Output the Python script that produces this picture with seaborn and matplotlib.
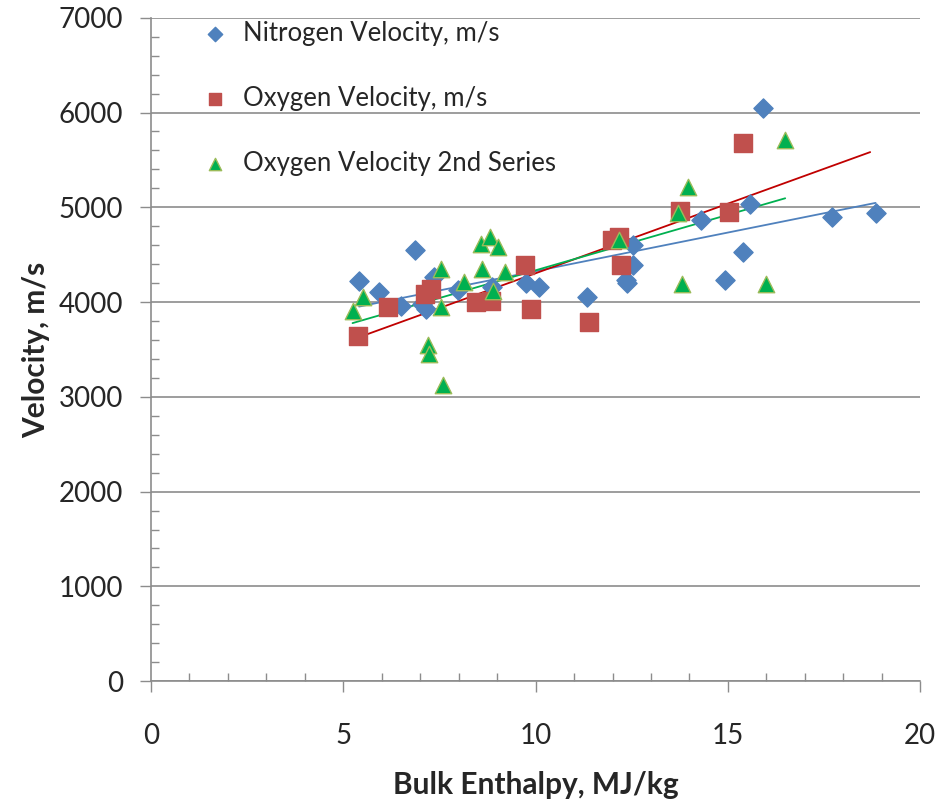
import numpy as np
import pandas as pd
import matplotlib.pyplot as plt
import seaborn as sns
from matplotlib.ticker import MultipleLocator

# Nitrogen velocity (blue diamonds)
n2_enthalpy = [5.41, 5.92, 6.51, 6.87, 7.05, 7.15, 7.36, 7.99, 8.87, 9.76, 10.10,
               11.33, 12.34, 12.38, 12.52, 12.52, 14.31, 14.93, 15.39, 15.58, 15.92,
               17.70, 18.84]
n2_velocity = [4225, 4103, 3962, 4549, 3975, 3925, 4268, 4127, 4162, 4197, 4155,
               4057, 4236, 4201, 4391, 4605, 4868, 4236, 4531, 5040, 6045,
               4893, 4935]

# Oxygen velocity (red squares)
o2_enthalpy = [5.39, 6.17, 7.12, 7.27, 8.44, 8.83, 9.72, 9.89, 11.40, 11.98, 12.17,
               12.22, 13.76, 15.02, 15.39]
o2_velocity = [3646, 3944, 4085, 4138, 3997, 4015, 4391, 3927, 3786, 4654, 4689,
               4391, 4963, 4953, 5683]

# Oxygen velocity 2nd series (green triangles)
o2b_enthalpy = [5.24, 5.50, 7.20, 7.23, 7.53, 7.53, 7.60, 8.13, 8.57, 8.61, 8.81,
                8.89, 9.02, 9.20, 12.18, 13.70, 13.96, 13.81, 15.99, 16.49]
o2b_velocity = [3909, 4050, 3548, 3453, 4349, 3944, 3130, 4208, 4612, 4349, 4682,
                4120, 4576, 4313, 4654, 4945, 5216, 4190, 4190, 5708]

# Excel trendline for the red series is forecast out to this enthalpy
o2_trend_end = 18.7

sns.set_style("white")
plt.rcParams['font.family'] = ['Lato', 'DejaVu Sans']

fig, ax = plt.subplots(figsize=(9.38, 8.08), dpi=100)
fig.subplots_adjust(left=0.161, right=0.981, top=0.978, bottom=0.157)

series = [
    ("Nitrogen Velocity, m/s", n2_enthalpy, n2_velocity, "D", "#4F81BD", "#4F81BD", 95, "#4F81BD", None),
    ("Oxygen Velocity, m/s", o2_enthalpy, o2_velocity, "s", "#C0504D", "#C0504D", 150, "#C00000", o2_trend_end),
    ("Oxygen Velocity 2nd Series", o2b_enthalpy, o2b_velocity, "^", "#00B050", "#9BBB59", 140, "#00B050", None),
]

for label, xs, ys, marker, face, edge, size, line_color, x_end in series:
    df = pd.DataFrame({"x": xs, "y": ys})
    sns.scatterplot(data=df, x="x", y="y", marker=marker, color=face,
                    edgecolor=edge, linewidth=1.0, s=size, label=label, ax=ax, zorder=3)
    slope, intercept = np.polyfit(df["x"], df["y"], 1)
    x_line = np.array([df["x"].min(), x_end if x_end else df["x"].max()])
    ax.plot(x_line, slope * x_line + intercept, color=line_color, lw=1.3, zorder=2)

ax.set_xlim(0, 20)
ax.set_ylim(0, 7000)
ax.xaxis.set_major_locator(MultipleLocator(5))
ax.xaxis.set_minor_locator(MultipleLocator(1))
ax.yaxis.set_major_locator(MultipleLocator(1000))
ax.yaxis.set_minor_locator(MultipleLocator(200))

ax.grid(axis="y", which="major", color="#8C8C8C", lw=1.2)
ax.set_axisbelow(True)
for side in ["top", "right"]:
    ax.spines[side].set_visible(False)
for side in ["left", "bottom"]:
    ax.spines[side].set_color("#8C8C8C")
    ax.spines[side].set_linewidth(1.2)

ax.tick_params(which="both", bottom=True, left=True)
ax.tick_params(which="major", direction="out", length=8, width=1, color="#8C8C8C",
               labelsize=20)
ax.tick_params(axis="y", which="major", pad=12)
ax.tick_params(axis="x", which="major", pad=22)
ax.tick_params(which="minor", direction="in", length=6, width=1, color="#8C8C8C")

ax.set_xlabel("Bulk Enthalpy, MJ/kg", fontsize=21.5, fontweight="bold", labelpad=16)
ax.set_ylabel("Velocity, m/s", fontsize=21.5, fontweight="bold", labelpad=6)

ax.legend(loc="upper left", bbox_to_anchor=(0.02, 1.03), frameon=False, fontsize=18.5,
          labelspacing=1.55, handletextpad=0.1, markerscale=0.75)

plt.savefig("out.png", dpi=100)
plt.close()
